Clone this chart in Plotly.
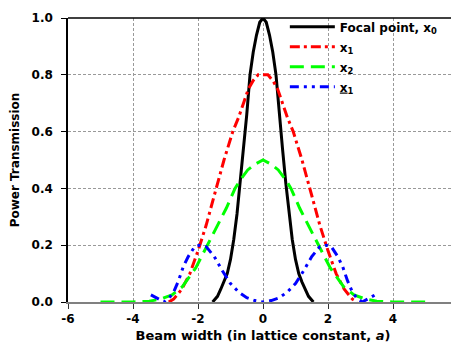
import plotly.graph_objects as go

# ---- data ----
x_focal = [-1.55, -1.4, -1.3, -1.2, -1.1, -1.0, -0.9, -0.8, -0.7, -0.6, -0.5, -0.4, -0.3, -0.2, -0.1, 0.0,
           0.1, 0.2, 0.3, 0.4, 0.5, 0.6, 0.7, 0.8, 0.9, 1.0, 1.1, 1.2, 1.3, 1.4, 1.55]
y_focal = [0.0, 0.02, 0.045, 0.07, 0.10, 0.15, 0.22, 0.31, 0.42, 0.54, 0.66, 0.80, 0.88, 0.94, 0.985, 1.0,
           0.985, 0.94, 0.88, 0.80, 0.66, 0.54, 0.42, 0.31, 0.22, 0.15, 0.10, 0.07, 0.045, 0.02, 0.0]

x_x1 = [-2.9, -2.75, -2.5, -2.25, -2.0, -1.75, -1.5, -1.2, -0.93, -0.75, -0.6, -0.45, -0.3, -0.15, 0.0,
        0.15, 0.3, 0.45, 0.6, 0.75, 0.93, 1.2, 1.5, 1.75, 2.0, 2.25, 2.5, 2.75, 2.9]
y_x1 = [0.0, 0.01, 0.045, 0.10, 0.18, 0.27, 0.375, 0.50, 0.60, 0.65, 0.70, 0.75, 0.78, 0.80, 0.80,
        0.80, 0.78, 0.75, 0.70, 0.65, 0.60, 0.50, 0.375, 0.27, 0.18, 0.10, 0.045, 0.01, 0.0]

x_x2 = [-5.0, -4.5, -4.0, -3.5, -3.16, -2.8, -2.48, -2.07, -1.76, -1.44, -1.13, -0.86, -0.7, -0.47, -0.25, 0.0,
        0.25, 0.47, 0.7, 0.86, 1.13, 1.44, 1.76, 2.07, 2.48, 2.8, 3.16, 3.5, 4.0, 4.5, 5.0]
y_x2 = [0.0, 0.0, 0.0, 0.003, 0.01, 0.025, 0.054, 0.12, 0.19, 0.26, 0.33, 0.40, 0.43, 0.465, 0.485, 0.50,
        0.485, 0.465, 0.43, 0.40, 0.33, 0.26, 0.19, 0.12, 0.054, 0.025, 0.01, 0.003, 0.0, 0.0, 0.0]

x_xm1 = [-3.45, -3.35, -3.2, -3.05, -2.9, -2.75, -2.6, -2.45, -2.3, -2.1, -1.95, -1.75, -1.5, -1.25, -1.0,
         -0.75, -0.5, -0.25, 0.0, 0.25, 0.5, 0.75, 1.0, 1.25, 1.5, 1.75, 1.95, 2.1, 2.3, 2.45, 2.6, 2.75,
         2.9, 3.05, 3.2, 3.35, 3.45]
y_xm1 = [0.025, 0.02, 0.01, 0.0, 0.012, 0.035, 0.075, 0.125, 0.16, 0.195, 0.20, 0.195, 0.16, 0.11, 0.065,
         0.035, 0.015, 0.005, 0.0, 0.005, 0.015, 0.035, 0.065, 0.11, 0.16, 0.195, 0.20, 0.195, 0.16, 0.125,
         0.075, 0.035, 0.012, 0.0, 0.01, 0.02, 0.025]

x_tickvals = [-6, -4, -2, 0, 2, 4, 6]
x_ticktext = ["-6", "-4", "-2", "0", "2", "4", "6"]
y_tickvals = [0.0, 0.2, 0.4, 0.6, 0.8, 1.0]
y_ticktext = ["0.0", "0.2", "0.4", "0.6", "0.8", "1.0"]

names = ["Focal point, x<sub>0</sub>", "x<sub>1</sub>", "x<sub>2</sub>", "<u>x</u><sub>1</sub>"]

FONT = "DejaVu Sans"

fig = go.Figure()
fig.add_trace(go.Scatter(x=x_focal, y=y_focal, mode="lines", name=names[0], legendgroup="g0",
                         line=dict(color="#000000", width=3)))
fig.add_trace(go.Scatter(x=x_x1, y=y_x1, mode="lines", name=names[1], legendgroup="g1",
                         line=dict(color="#ff0000", width=3, dash="10px,4px,3px,4px")))
fig.add_trace(go.Scatter(x=x_x2, y=y_x2, mode="lines", name=names[2], legendgroup="g2",
                         line=dict(color="#00ff00", width=3, dash="14px,7px")))
fig.add_trace(go.Scatter(x=x_xm1, y=y_xm1, mode="lines", name=names[3], legendgroup="g3",
                         line=dict(color="#0000ff", width=3, dash="9px,5px,3px,5px,3px,5px")))

fig.update_layout(
    width=451, height=335,
    margin=dict(l=60, r=1, t=10, b=41),
    paper_bgcolor="white", plot_bgcolor="white",
    font=dict(family=FONT, size=12, color="black"),
    showlegend=True,
    legend=dict(x=0.556, y=1.02, xanchor="left", yanchor="top",
                bgcolor="rgba(0,0,0,0)", borderwidth=0, itemwidth=45,
                font=dict(family=FONT, size=12, color="black", weight="bold"),
                tracegroupgap=1),
    shapes=[dict(type="line", xref="paper", yref="paper", x0=0, x1=1, y0=1, y1=1,
                 line=dict(color="black", width=1.5))],
)

fig.update_xaxes(
    range=[-6, 6], tickmode="array", tickvals=x_tickvals, ticktext=x_ticktext,
    showline=True, linecolor="#808080", linewidth=2,
    ticks="outside", ticklen=5, tickcolor="#333333", tickwidth=1,
    showgrid=True, gridcolor="#999999", gridwidth=1, griddash="3px,2px",
    zeroline=False, automargin=False,
    tickfont=dict(family=FONT, size=12, color="black", weight="bold"),
    title=dict(text="Beam width (in lattice constant, <i>a</i>)",
               font=dict(family=FONT, size=13, color="black", weight="bold"), standoff=5),
)
fig.update_yaxes(
    range=[0, 1], tickmode="array", tickvals=y_tickvals, ticktext=y_ticktext,
    showline=True, linecolor="black", linewidth=1.5,
    ticks="outside", ticklen=5, tickcolor="black", tickwidth=1,
    showgrid=True, gridcolor="#999999", gridwidth=1, griddash="3px,2px",
    zeroline=False, automargin=False, ticklabelstandoff=6,
    tickfont=dict(family=FONT, size=12, color="black", weight="bold"),
    title=dict(text="Power Transmission",
               font=dict(family=FONT, size=12, color="black", weight="bold"), standoff=12),
)

fig.write_html("out.html")
